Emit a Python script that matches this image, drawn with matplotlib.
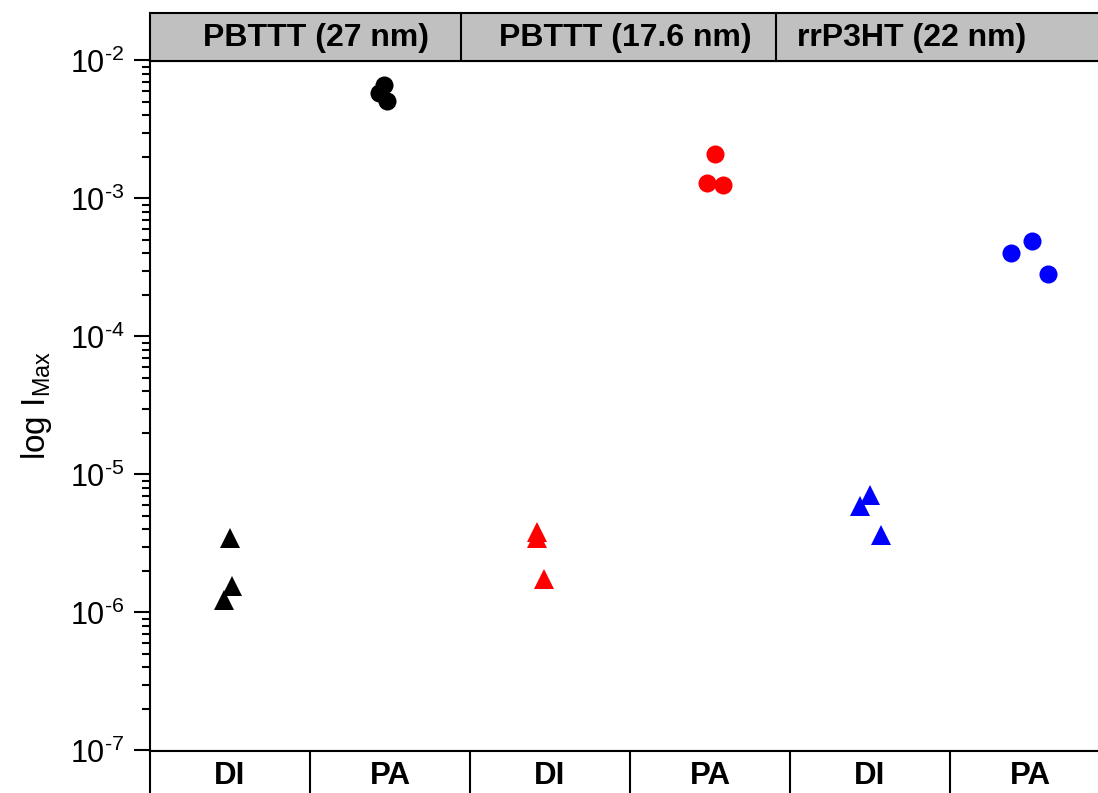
import numpy as np
import matplotlib
matplotlib.use("Agg")
import matplotlib.pyplot as plt
from matplotlib.ticker import LogLocator, NullFormatter, FuncFormatter

plt.rcParams['font.family'] = ['Liberation Sans', 'DejaVu Sans']
plt.rcParams['mathtext.fontset'] = 'custom'
plt.rcParams['mathtext.rm'] = 'Liberation Sans'
plt.rcParams['mathtext.it'] = 'Liberation Sans:italic'
plt.rcParams['mathtext.bf'] = 'Liberation Sans:bold'
plt.rcParams['axes.unicode_minus'] = False

# _________________________________________________________________
# data
samples = ["PBTTT (27 nm)", "PBTTT (17.6 nm)", "rrP3HT (22 nm)"]
methods = ["DI", "PA", "DI", "PA", "DI", "PA"]
colors = ["black", "red", "blue"]

# x = category position (1..6) with the small horizontal spread of the points
di_x = [[1.00, 1.01, 0.96], [2.92, 2.92, 2.96], [5.00, 4.94, 5.07]]
di_y = [[3.44e-6, 1.55e-6, 1.24e-6],
        [3.80e-6, 3.49e-6, 1.76e-6],
        [7.16e-6, 5.96e-6, 3.67e-6]]

pa_x = [[1.96, 1.93, 1.98], [4.03, 3.98, 4.08], [6.01, 5.88, 6.11]]
pa_y = [[6.60e-3, 5.86e-3, 5.05e-3],
        [2.09e-3, 1.29e-3, 1.26e-3],
        [4.96e-4, 4.06e-4, 2.86e-4]]
# _________________________________________________________________


def decade_label(v, pos):
    """10^n with a plain hyphen, like the original"""
    n = int(round(np.log10(v)))
    return r"$\mathdefault{10^{\text{%d}}}$" % n


W, H = 1098, 793
fig = plt.figure(figsize=(W / 100, H / 100), dpi=100)

left = 150 / W
width = 960 / W
y_top = 60.5
y_bot = 750.5

# main panel
ax = fig.add_axes([left, (H - y_bot) / H, width, (y_bot - y_top) / H])
for i in range(3):
    ax.plot(di_x[i], di_y[i], ls="none", marker="^", ms=14, color=colors[i], mew=0)
    ax.plot(pa_x[i], pa_y[i], ls="none", marker="o", ms=13, color=colors[i], mew=0)

ax.set_yscale("log")
ax.set_ylim(1e-7, 1e-2)
ax.set_xlim(0.5, 6.5)
ax.yaxis.set_major_locator(LogLocator(base=10, numticks=10))
ax.yaxis.set_major_formatter(FuncFormatter(decade_label))
ax.yaxis.set_minor_locator(LogLocator(base=10, subs=np.arange(2, 10), numticks=20))
ax.yaxis.set_minor_formatter(NullFormatter())
ax.tick_params(axis="y", which="major", direction="out", length=11.5, width=1.5,
               labelsize=22, pad=7)
ax.tick_params(axis="y", which="minor", direction="out", length=5.8, width=1.5)
ax.tick_params(axis="x", bottom=False, labelbottom=False)
for s in ax.spines.values():
    s.set_linewidth(1.5)
ax.spines["right"].set_visible(False)

ax.set_ylabel(r"log I$_{\mathregular{Max}}$", fontsize=24)
ax.yaxis.set_label_coords(-0.1, 0.5)

# header band with sample names
hdr = fig.add_axes([left, (H - y_top) / H, width, 48 / H], facecolor="#c0c0c0")
hdr.set_xlim(0.5, 6.5)
hdr.set_ylim(0, 1)
hdr.set_xticks([])
hdr.set_yticks([])
for s in hdr.spines.values():
    s.set_linewidth(1.5)
for xd in [2.444, 4.41]:
    hdr.axvline(xd, color="black", lw=1.5)
for xt, name in zip([1.54, 3.47, 5.26], samples):
    hdr.text(xt, 0.47, name, ha="center", va="center", fontsize=23,
             fontweight="bold")

# bottom band with method labels
bot = fig.add_axes([left, (H - y_bot - 50) / H, width, 50 / H])
bot.set_xlim(0.5, 6.5)
bot.set_ylim(0, 1)
bot.set_xticks([])
bot.set_yticks([])
for s in bot.spines.values():
    s.set_linewidth(1.5)
for xd in np.arange(1.5, 6, 1.0):
    bot.axvline(xd, color="black", lw=1.5)
for xt, m in enumerate(methods, start=1):
    bot.text(xt, 0.5, m, ha="center", va="center", fontsize=22.5, fontweight="bold")

fig.savefig("out.png", dpi=100)
